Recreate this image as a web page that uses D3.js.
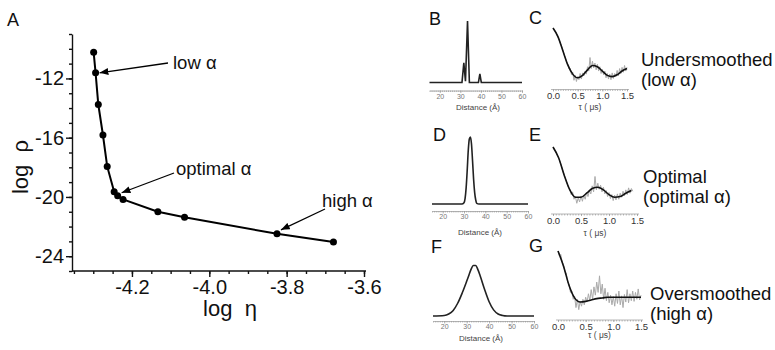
<!DOCTYPE html>
<html>
<head>
<meta charset="utf-8">
<script src="https://cdn.jsdelivr.net/npm/d3@7"></script>
<style>
  body { margin: 0; background: #fff; }
  svg { display: block; font-family: "Liberation Sans", Arial, sans-serif; }
</style>
</head>
<body>
<svg id="fig" width="775" height="350"></svg>
<script>
// --- L-curve (panel A)
const logEta = [-4.299, -4.294, -4.287, -4.275, -4.264, -4.246, -4.237, -4.223, -4.133, -4.064, -3.825, -3.679];
const logRho = [-10.24, -11.62, -13.76, -15.82, -17.94, -19.65, -19.92, -20.17, -21.0, -21.37, -22.49, -23.04];
const etaTicks = [-4.2, -4.0, -3.8, -3.6];
const rhoTicks = [-12, -16, -20, -24];
const annoText = ['low α', 'optimal α', 'high α'];
const annoPoint = [1, 6, 10];

// --- distance distributions (B, D, F)
const rB = [15, 30.8, 31.7, 32.5, 33.5, 34.4, 38.8, 39.5, 40.2, 60];
const pB = [0, 0, 0.32, 0.02, 1.0, 0, 0, 0.14, 0, 0];
const rD = [15, 29, 30, 30.5, 31, 31.5, 32, 32.5, 33, 33.5, 34, 34.5, 35, 35.5, 36, 37, 60];
const pD = [0, 0, 0.02, 0.08, 0.24, 0.5, 0.8, 0.97, 1.0, 0.9, 0.65, 0.37, 0.17, 0.06, 0.01, 0, 0];
const rF = [15, 20, 22, 24, 26, 28, 30, 31, 32, 33, 34, 35, 36, 38, 40, 42, 44, 46, 48, 60];
const pF = [0, 0.01, 0.04, 0.11, 0.25, 0.45, 0.68, 0.8, 0.92, 0.99, 0.99, 0.91, 0.79, 0.52, 0.28, 0.12, 0.04, 0.01, 0, 0];
const distTicks = [20, 30, 40, 50, 60];

// --- time traces (C, E, G): fits and measured data (step 0.025 us)
const tFit = [0, 0.1, 0.2, 0.3, 0.4, 0.5, 0.6, 0.7, 0.8, 0.9, 1.0, 1.1, 1.2, 1.3, 1.4, 1.5];
const fitC = [1.0, 0.86, 0.63, 0.40, 0.25, 0.19, 0.23, 0.32, 0.39, 0.37, 0.30, 0.23, 0.21, 0.24, 0.30, 0.34];
const fitE = [1.0, 0.84, 0.58, 0.36, 0.25, 0.25, 0.31, 0.38, 0.40, 0.36, 0.29, 0.25, 0.26, 0.31, 0.35];
const fitG = [1.0, 0.78, 0.50, 0.32, 0.26, 0.27, 0.29, 0.31, 0.32, 0.33, 0.33, 0.33, 0.33, 0.33, 0.33, 0.33];
const dataStep = 0.025;
const dataC = [1.00, 0.97, 0.94, 0.90, 0.85, 0.81, 0.75, 0.70, 0.64, 0.57,
  0.52, 0.45, 0.41, 0.33, 0.34, 0.24, 0.28, 0.15, 0.23, 0.13,
  0.21, 0.16, 0.26, 0.17, 0.27, 0.22, 0.30, 0.25, 0.37, 0.30,
  0.52, 0.34, 0.46, 0.35, 0.43, 0.32, 0.41, 0.30, 0.37, 0.26,
  0.33, 0.24, 0.30, 0.19, 0.26, 0.17, 0.25, 0.16, 0.27, 0.18,
  0.26, 0.21, 0.31, 0.22, 0.34, 0.26, 0.36, 0.28, 0.39, 0.30, 0.36];
const dataE = [1.00, 0.96, 0.93, 0.88, 0.84, 0.78, 0.72, 0.64, 0.59, 0.52,
  0.46, 0.40, 0.37, 0.29, 0.33, 0.22, 0.26, 0.16, 0.24, 0.18,
  0.27, 0.19, 0.28, 0.22, 0.32, 0.26, 0.35, 0.30, 0.42, 0.33,
  0.56, 0.36, 0.46, 0.37, 0.43, 0.33, 0.40, 0.30, 0.35, 0.26,
  0.32, 0.23, 0.29, 0.20, 0.28, 0.21, 0.30, 0.22, 0.31, 0.25,
  0.34, 0.27, 0.36, 0.29, 0.39, 0.31, 0.38, 0.34];
const dataG = [1.00, 0.93, 0.95, 0.84, 0.80, 0.70, 0.68, 0.55, 0.52, 0.40,
  0.42, 0.30, 0.34, 0.18, 0.30, 0.15, 0.27, 0.20, 0.30, 0.22,
  0.33, 0.26, 0.38, 0.28, 0.44, 0.30, 0.48, 0.36, 0.55, 0.40,
  0.64, 0.38, 0.52, 0.30, 0.46, 0.28, 0.40, 0.25, 0.36, 0.22,
  0.34, 0.20, 0.38, 0.24, 0.42, 0.22, 0.35, 0.18, 0.37, 0.26,
  0.44, 0.25, 0.38, 0.28, 0.42, 0.27, 0.40, 0.30, 0.45, 0.29, 0.36];
const timeTicks = [0, 0.5, 1.0, 1.5];

const rowLabels = [['Undersmoothed', '(low α)'], ['Optimal', '(optimal α)'], ['Oversmoothed', '(high α)']];

const svg = d3.select('#fig');

// arrow head
svg.append('defs').append('marker')
  .attr('id', 'arrow')
  .attr('viewBox', '0 0 10 8')
  .attr('refX', 10).attr('refY', 4)
  .attr('markerWidth', 9).attr('markerHeight', 7)
  .attr('markerUnits', 'userSpaceOnUse')
  .attr('orient', 'auto')
  .append('path').attr('d', 'M0,0 L10,4 L0,8 Z').attr('fill', '#000');

// ================= Panel A =================
const x = d3.scaleLinear().domain([-4.355, -3.6]).range([72, 364]);
const y = d3.scaleLinear().domain([-25, -9]).range([271, 34]);
const gA = svg.append('g');

const styleAxis = (g, size) => {
  g.selectAll('path, line').attr('stroke', '#111').attr('stroke-width', 1.4);
  g.selectAll('text').attr('font-size', size).attr('fill', '#111')
    .attr('font-family', '"Liberation Sans", Arial, sans-serif');
};

gA.append('g').attr('transform', 'translate(72,0)')
  .call(d3.axisLeft(y).tickValues(d3.range(-25, -8, 1)).tickSize(3).tickSizeOuter(0).tickFormat(''))
  .call(g => styleAxis(g, 20));
gA.append('g').attr('transform', 'translate(72,0)')
  .call(d3.axisLeft(y).tickValues(rhoTicks).tickSize(6).tickSizeOuter(0).tickPadding(2).tickFormat(d => String(d)))
  .call(g => styleAxis(g, 20))
  .call(g => g.select('.domain').remove());

gA.append('g').attr('transform', 'translate(0,271)')
  .call(d3.axisBottom(x).tickValues(d3.range(-4.35, -3.59, 0.05)).tickSize(3).tickSizeOuter(0).tickFormat(''))
  .call(g => styleAxis(g, 20))
  .call(g => g.select('.domain').attr('d', 'M72,0H366'));
gA.append('g').attr('transform', 'translate(0,271)')
  .call(d3.axisBottom(x).tickValues(etaTicks).tickSize(6).tickSizeOuter(0).tickPadding(3).tickFormat(d3.format('.1f')))
  .call(g => styleAxis(g, 20))
  .call(g => g.select('.domain').remove())
  .call(g => g.selectAll('text').text(d => d3.format('.1f')(d).replace('−', '-')));

const pts = logEta.map((e, i) => [x(e), y(logRho[i])]);
gA.append('path')
  .attr('d', d3.line()(pts))
  .attr('fill', 'none').attr('stroke', '#000').attr('stroke-width', 2);
gA.selectAll('circle.pt').data(pts).join('circle')
  .attr('class', 'pt')
  .attr('cx', d => d[0]).attr('cy', d => d[1]).attr('r', 3.5).attr('fill', '#000');

// annotations
const annoPos = [
  { tx: 173, ty: 69, from: [168, 63], off: [4, 0] },
  { tx: 176, ty: 175, from: [174, 173], off: [4, -3] },
  { tx: 322, ty: 207, from: [325, 209], off: [4, -4] }
];
annoText.forEach((t, i) => {
  const a = annoPos[i];
  const p = pts[annoPoint[i]];
  gA.append('line')
    .attr('x1', a.from[0]).attr('y1', a.from[1])
    .attr('x2', p[0] + a.off[0]).attr('y2', p[1] + a.off[1])
    .attr('stroke', '#000').attr('stroke-width', 1.3)
    .attr('marker-end', 'url(#arrow)');
  gA.append('text').attr('x', a.tx).attr('y', a.ty)
    .attr('font-size', 18.5).attr('fill', '#111').text(t);
});

gA.append('text').attr('x', 7).attr('y', 26).attr('font-size', 18).attr('fill', '#111').text('A');
gA.append('text').attr('x', 230).attr('y', 316).attr('text-anchor', 'middle')
  .attr('font-size', 22).attr('fill', '#111').attr('xml:space', 'preserve').text('log  η');
gA.append('text').attr('transform', 'translate(28,167) rotate(-90)').attr('text-anchor', 'middle')
  .attr('font-size', 22).attr('fill', '#111').attr('xml:space', 'preserve').text('log  ρ');

// ================= Distance panels =================
function distPanel(r, p, o) {
  const sx = d3.scaleLinear().domain([15, 60]).range([o.left, o.right]);
  const sy = d3.scaleLinear().domain([0, 1]).range([o.base, o.top]);
  const g = svg.append('g');
  g.append('g').attr('transform', `translate(0,${o.axisY})`)
    .call(d3.axisBottom(sx).tickValues(d3.range(15, 61, 1)).tickSize(1.5).tickSizeOuter(0).tickFormat(''))
    .call(a => a.selectAll('path, line').attr('stroke', '#999').attr('stroke-width', 0.7));
  g.append('g').attr('transform', `translate(0,${o.axisY})`)
    .call(d3.axisBottom(sx).tickValues(distTicks).tickSize(2.5).tickSizeOuter(0).tickPadding(1))
    .call(a => a.select('.domain').remove())
    .call(a => a.selectAll('line').attr('stroke', '#999').attr('stroke-width', 0.7))
    .call(a => a.selectAll('text').attr('font-size', 7).attr('fill', '#777')
      .attr('font-family', '"Liberation Sans", Arial, sans-serif'));
  g.append('path')
    .attr('d', d3.line().x((d, i) => sx(r[i])).y(d => sy(d)).curve(o.curve)(p))
    .attr('fill', 'none').attr('stroke', '#222').attr('stroke-width', 1.6);
  g.append('text').attr('x', o.labelX).attr('y', o.labelY).attr('text-anchor', 'middle')
    .attr('font-size', 8).attr('fill', '#444').text('Distance (Å)');
  g.append('text').attr('x', o.letterX).attr('y', o.letterY).attr('font-size', 18).attr('fill', '#111').text(o.letter);
}

distPanel(rB, pB, { left: 429.5, right: 522, base: 82.5, top: 21, axisY: 90.5, labelX: 478, labelY: 110,
  letter: 'B', letterX: 429, letterY: 25, curve: d3.curveLinear });
distPanel(rD, pD, { left: 432, right: 528, base: 204, top: 137, axisY: 211, labelX: 480, labelY: 234.5,
  letter: 'D', letterX: 433, letterY: 141, curve: d3.curveMonotoneX });
distPanel(rF, pF, { left: 433, right: 534, base: 316, top: 265, axisY: 321, labelX: 481, labelY: 340.5,
  letter: 'F', letterX: 431, letterY: 253, curve: d3.curveMonotoneX });

// ================= Time panels =================
function timePanel(fit, data, o) {
  const sx = d3.scaleLinear().domain([0, 1.5]).range([o.left, o.right]);
  const sy = d3.scaleLinear().domain([0, 1]).range([o.axisY, o.top]);
  const g = svg.append('g');
  g.append('g').attr('transform', `translate(0,${o.axisY})`)
    .call(d3.axisBottom(sx).tickValues(d3.range(0, 1.51, 0.05)).tickSize(1.5).tickSizeOuter(0).tickFormat(''))
    .call(a => a.selectAll('path, line').attr('stroke', '#999').attr('stroke-width', 0.7))
    .call(a => a.select('.domain').attr('d', `M${o.left - 2},0H${o.right + 2}`));
  g.append('g').attr('transform', `translate(0,${o.axisY})`)
    .call(d3.axisBottom(sx).tickValues(timeTicks).tickSize(2).tickSizeOuter(0).tickPadding(1).tickFormat(d3.format('.1f')))
    .call(a => a.select('.domain').remove())
    .call(a => a.selectAll('line').attr('stroke', '#999').attr('stroke-width', 0.7))
    .call(a => a.selectAll('text').attr('font-size', 9.5).attr('fill', '#333')
      .attr('font-family', '"Liberation Sans", Arial, sans-serif'));
  g.append('path')
    .attr('d', d3.line().x((d, i) => sx(i * dataStep)).y(d => sy(d))(data))
    .attr('fill', 'none').attr('stroke', '#aaa').attr('stroke-width', 1);
  g.append('path')
    .attr('d', d3.line().x((d, i) => sx(tFit[i])).y(d => sy(d)).curve(d3.curveMonotoneX)(fit))
    .attr('fill', 'none').attr('stroke', '#111').attr('stroke-width', 1.6);
  g.append('text').attr('x', (o.left + o.right) / 2).attr('y', o.labelY).attr('text-anchor', 'middle')
    .attr('font-size', 8.5).attr('fill', '#444').attr('xml:space', 'preserve').text('τ ( μs)');
  g.append('text').attr('x', o.letterX).attr('y', o.letterY).attr('font-size', 18).attr('fill', '#111').text(o.letter);
}

timePanel(fitC, dataC, { left: 553, right: 627, top: 28, axisY: 89.5, labelY: 110, letter: 'C', letterX: 529, letterY: 24 });
timePanel(fitE, dataE, { left: 553, right: 637, top: 147, axisY: 214, labelY: 236, letter: 'E', letterX: 529, letterY: 141 });
timePanel(fitG, dataG, { left: 558, right: 641, top: 251, axisY: 320, labelY: 338, letter: 'G', letterX: 529, letterY: 252 });

// ================= Row labels =================
const rowPos = [[641, 66], [643, 183], [650, 300]];
rowLabels.forEach((lines, i) => {
  lines.forEach((t, j) => {
    svg.append('text').attr('x', rowPos[i][0]).attr('y', rowPos[i][1] + j * 20)
      .attr('font-size', 18.5).attr('fill', '#111').text(t);
  });
});
</script>
</body>
</html>
